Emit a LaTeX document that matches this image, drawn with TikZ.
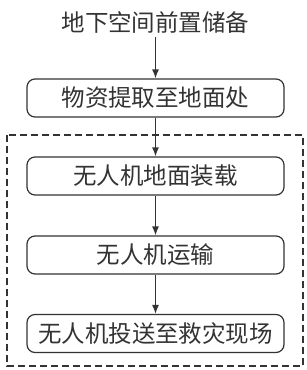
\documentclass[tikz,border=0pt]{standalone}
\usepackage{fontspec}
\newfontfamily\cjk{Noto Sans CJK SC}
\usetikzlibrary{arrows.meta,positioning}
\begin{document}
\begin{tikzpicture}[x=1pt, y=-1pt, font=\cjk\fontsize{23.5}{28}\selectfont, >={Latex[length=9pt,width=7pt]}, line width=1.2pt, color=black!80,
  kuang/.style={draw, rounded corners=8pt, minimum width=257pt, minimum height=38pt, inner sep=0pt}]
\useasboundingbox (0,0) rectangle (306,370);
\node (chubei) at (155.5,22) {地下空间前置储备};
\node[kuang] (tiqu) at (155.5,98) {物资提取至地面处};
\node[kuang] (zhuangzai) at (155.5,176) {无人机地面装载};
\node[kuang] (yunshu) at (155.5,255) {无人机运输};
\node[kuang] (tousong) at (155.5,333.5) {无人机投送至救灾现场};
\draw[->] (chubei) -- (tiqu);
\draw[->] (tiqu) -- (zhuangzai);
\draw[->] (zhuangzai) -- (yunshu);
\draw[->] (yunshu) -- (tousong);
% 无人机环节
\draw[dash pattern=on 7pt off 4pt] (7,135) rectangle (303,366);
\end{tikzpicture}
\end{document}
